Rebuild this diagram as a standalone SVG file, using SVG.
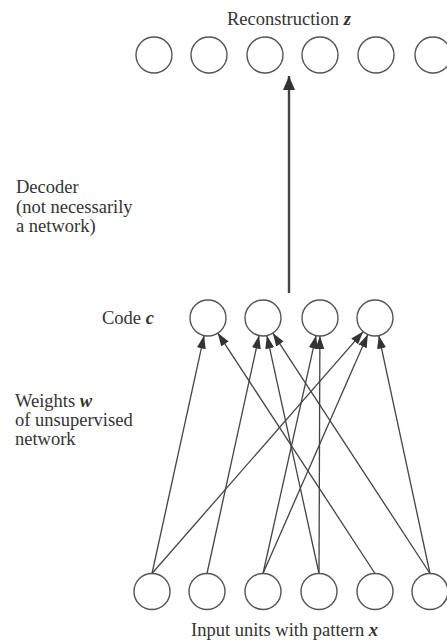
<svg xmlns="http://www.w3.org/2000/svg" width="447" height="641" viewBox="0 0 447 641">
<defs>
<style>
.n{fill:#fff;stroke:#555;stroke-width:1.4}
.t{font-family:"Liberation Serif","Times New Roman",serif;font-size:18.5px;fill:#333}
.v{font-style:italic;font-weight:bold}
.e{stroke:#444;stroke-width:1.3;fill:none;marker-end:url(#ah)}
.d{stroke:#444;stroke-width:2.4;fill:none;marker-end:url(#ahd)}
</style>
<marker id="ah" markerUnits="userSpaceOnUse" markerWidth="14" markerHeight="10" refX="13" refY="4.5" orient="auto"><path d="M0,0 L13,4.5 L0,9 z" fill="#333"/></marker>
<marker id="ahd" markerUnits="userSpaceOnUse" markerWidth="15" markerHeight="13" refX="14" refY="6" orient="auto"><path d="M0,0 L14,6 L0,12 z" fill="#333"/></marker>
</defs>
<rect width="447" height="641" fill="#fff"/>
<g id="labels">
<text class="t" x="227" y="25">Reconstruction <tspan class="v">z</tspan></text>
<text class="t" x="16" y="193">Decoder</text>
<text class="t" x="16" y="212.5">(not necessarily</text>
<text class="t" x="16" y="232">a network)</text>
<text class="t" x="102" y="324">Code <tspan class="v">c</tspan></text>
<text class="t" x="15" y="407">Weights <tspan class="v">w</tspan></text>
<text class="t" x="15" y="426">of unsupervised</text>
<text class="t" x="15" y="445">network</text>
<text class="t" x="191" y="636">Input units with pattern <tspan class="v">x</tspan></text>
</g>
<g id="connectors">
<line class="d" x1="289" y1="293" x2="289" y2="76"/>
<line class="e" x1="152" y1="573.5" x2="204.1" y2="335.6"/>
<line class="e" x1="375" y1="573.5" x2="217.8" y2="333.1"/>
<line class="e" x1="207" y1="573.5" x2="259.1" y2="335.6"/>
<line class="e" x1="319" y1="573.5" x2="266.9" y2="335.6"/>
<line class="e" x1="430" y1="573.5" x2="272.8" y2="333.1"/>
<line class="e" x1="263" y1="573.5" x2="316.1" y2="335.6"/>
<line class="e" x1="319" y1="573.5" x2="319.9" y2="336"/>
<line class="e" x1="152" y1="573.5" x2="363.2" y2="331.6"/>
<line class="e" x1="263" y1="573.5" x2="367.8" y2="334.5"/>
<line class="e" x1="430" y1="573.5" x2="378.8" y2="335.6"/>
</g>
<g id="recon">
<circle id="z1" class="n" cx="154" cy="55" r="18"/>
<circle id="z2" class="n" cx="209" cy="55" r="18"/>
<circle id="z3" class="n" cx="265" cy="55" r="18"/>
<circle id="z4" class="n" cx="320" cy="55" r="18"/>
<circle id="z5" class="n" cx="376" cy="55" r="18"/>
<circle id="z6" class="n" cx="433" cy="55" r="18"/>
</g>
<g id="code">
<circle id="c1" class="n" cx="208" cy="318" r="18"/>
<circle id="c2" class="n" cx="263" cy="318" r="18"/>
<circle id="c3" class="n" cx="320" cy="318" r="18"/>
<circle id="c4" class="n" cx="375" cy="318" r="18"/>
</g>
<g id="input">
<circle id="x1" class="n" cx="152" cy="591.5" r="18"/>
<circle id="x2" class="n" cx="207" cy="591.5" r="18"/>
<circle id="x3" class="n" cx="263" cy="591.5" r="18"/>
<circle id="x4" class="n" cx="319" cy="591.5" r="18"/>
<circle id="x5" class="n" cx="375" cy="591.5" r="18"/>
<circle id="x6" class="n" cx="430" cy="591.5" r="18"/>
</g>
</svg>
